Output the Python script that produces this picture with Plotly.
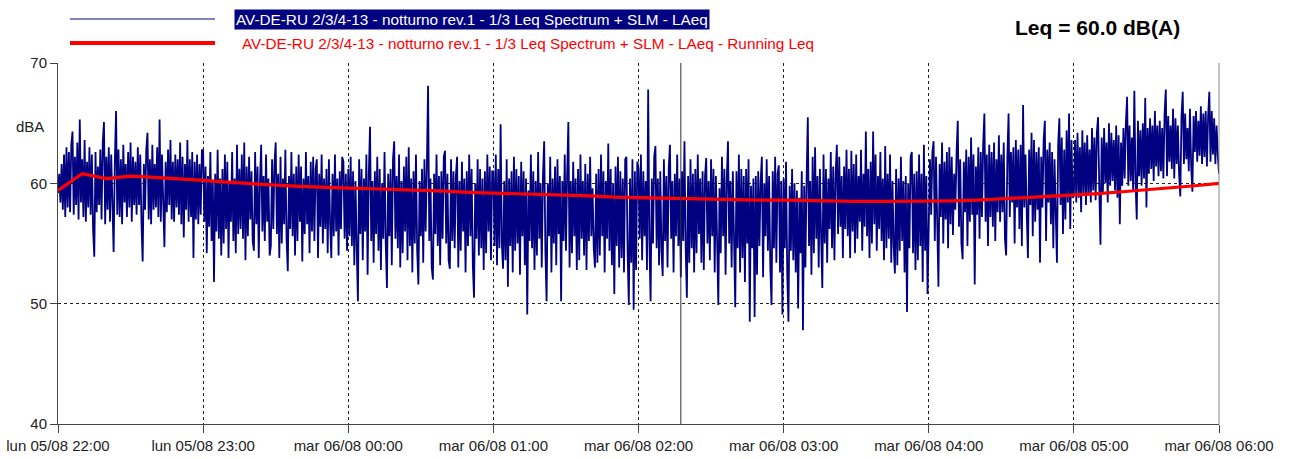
import pandas as pd
import plotly.graph_objects as go

# LAeq samples, one every 30 s
h22 = [59.2, 60.8, 58.4, 61.6, 57.8, 62.4, 57.2, 63.0, 58.0, 62.6,
       57.6, 63.2, 64.3, 57.4, 62.2, 58.2, 63.4, 57.0, 65.3, 58.4,
       62.0, 57.2, 63.6, 56.8, 61.8, 58.0, 63.0, 57.4, 62.4, 56.2,
       53.9, 62.6, 57.6, 61.4, 58.2, 62.8, 57.0, 63.4, 65.1, 56.6,
       62.2, 57.8, 63.0, 56.8, 62.4, 58.0, 54.3, 61.8, 66.0, 57.4,
       62.8, 57.2, 62.0, 56.6, 63.2, 58.4, 61.6, 57.2, 62.6, 58.0,
       63.4, 56.8, 62.2, 58.2, 61.8, 57.4, 63.0, 58.2, 62.4, 56.8,
       53.5, 61.6, 57.8, 62.8, 64.2, 57.0, 62.0, 56.6, 63.2, 57.8,
       61.6, 58.0, 63.0, 57.2, 65.3, 56.8, 62.4, 58.4, 54.7, 61.8,
       57.6, 62.8, 58.2, 63.6, 57.0, 61.8, 56.8, 62.4, 58.0, 62.0,
       57.4, 63.4, 56.6, 62.2, 55.5, 61.6, 57.8, 63.6, 56.8, 62.0,
       57.2, 62.6, 53.8, 61.8, 57.0, 62.4, 56.6, 61.6, 57.4, 62.8]
h23 = [62.7, 56.8, 61.4, 54.2, 60.6, 56.4, 62.6, 55.2, 60.2, 51.8,
       60.8, 56.0, 62.8, 55.4, 60.4, 54.0, 61.2, 55.0, 62.4, 56.2,
       61.8, 53.8, 60.2, 56.8, 62.6, 55.2, 60.4, 54.2, 63.2, 55.8,
       61.2, 56.2, 62.4, 55.4, 63.4, 53.6, 61.4, 55.6, 62.2, 57.0,
       61.0, 55.2, 54.4, 62.6, 56.6, 61.4, 53.8, 60.2, 63.2, 56.0,
       60.6, 55.2, 62.4, 56.8, 60.4, 54.0, 54.8, 62.0, 56.2, 61.6,
       63.4, 55.8, 60.8, 53.8, 62.2, 55.0, 60.4, 56.6, 62.8, 55.4,
       52.7, 60.6, 56.2, 62.6, 55.6, 60.8, 54.0, 61.4, 55.2, 62.4,
       56.8, 61.4, 53.5, 60.4, 55.8, 62.6, 56.6, 60.6, 54.2, 61.8,
       56.0, 62.2, 55.2, 61.2, 62.0, 53.8, 60.8, 56.4, 62.4, 55.0,
       60.4, 56.2, 61.2, 54.2, 62.0, 56.6, 53.8, 60.8, 55.6, 62.4,
       56.0, 60.4, 54.0, 61.0, 56.2, 62.2, 61.8, 55.4, 60.8, 54.4]
h00 = [61.2, 55.6, 62.2, 54.8, 61.0, 53.2, 60.2, 54.6, 50.2, 62.0,
       55.8, 61.2, 53.6, 60.4, 56.0, 62.4, 52.4, 60.8, 64.7, 55.2,
       60.2, 53.4, 61.0, 55.8, 62.2, 54.4, 61.2, 52.8, 60.0, 55.4,
       62.6, 55.0, 51.3, 60.8, 55.6, 61.2, 53.2, 62.0, 63.5, 55.4,
       60.6, 54.6, 62.4, 53.0, 60.2, 54.2, 61.4, 56.0, 62.2, 53.6,
       63.0, 54.8, 60.4, 52.6, 61.0, 55.0, 62.4, 54.4, 51.6, 60.2,
       55.6, 61.2, 53.4, 62.0, 56.0, 61.4, 68.1, 55.2, 60.4, 53.0,
       52.0, 60.8, 55.8, 62.4, 54.8, 60.6, 53.2, 61.0, 55.4, 62.2,
       62.7, 55.0, 60.8, 53.6, 52.9, 62.0, 55.2, 61.0, 54.6, 60.6,
       62.2, 53.0, 60.2, 54.4, 61.8, 56.0, 60.4, 52.6, 61.0, 54.8,
       62.4, 55.6, 61.2, 53.2, 50.5, 60.0, 55.4, 62.0, 54.0, 61.2,
       54.6, 60.4, 52.8, 61.0, 54.2, 62.4, 56.0, 61.4, 53.6, 61.0]
h01 = [61.0, 54.8, 62.4, 53.2, 61.2, 54.6, 64.9, 55.0, 52.9, 60.2,
       53.6, 62.0, 51.4, 60.4, 54.8, 61.0, 52.6, 62.2, 54.4, 61.2,
       55.0, 60.6, 52.4, 61.8, 55.6, 61.0, 53.2, 60.4, 49.1, 59.4,
       55.2, 62.4, 54.6, 61.0, 52.8, 60.2, 54.0, 62.6, 55.4, 60.0,
       53.0, 60.6, 63.5, 54.4, 50.2, 60.0, 55.6, 62.2, 52.6, 60.4,
       55.0, 61.4, 53.2, 62.0, 55.8, 60.6, 50.2, 60.2, 55.2, 62.4,
       54.4, 60.8, 65.1, 53.0, 60.2, 54.2, 61.8, 55.6, 60.4, 52.8,
       61.2, 53.6, 62.4, 55.4, 60.2, 54.0, 61.6, 52.8, 60.8, 55.2,
       62.2, 55.6, 59.6, 54.6, 53.0, 60.8, 53.4, 61.2, 54.0, 62.4,
       55.6, 61.0, 52.6, 60.2, 55.4, 63.3, 54.4, 61.2, 53.2, 60.0,
       50.8, 61.4, 54.8, 62.2, 53.0, 61.0, 53.8, 60.4, 52.6, 62.0,
       62.2, 54.2, 49.9, 60.4, 53.4, 62.0, 49.5, 61.0, 52.8, 61.8]
h02 = [61.2, 55.4, 62.4, 53.6, 61.0, 55.6, 60.2, 52.8, 67.8, 55.2,
       50.2, 60.4, 55.0, 62.2, 63.1, 54.6, 60.4, 53.2, 61.0, 54.4,
       52.3, 62.0, 55.2, 60.6, 53.0, 61.2, 63.2, 55.4, 60.2, 52.6,
       60.8, 55.6, 62.4, 54.8, 60.4, 52.2, 61.0, 55.2, 63.5, 54.6,
       50.5, 60.6, 53.4, 62.0, 54.6, 60.8, 52.6, 61.2, 54.2, 62.4,
       55.8, 60.4, 53.4, 61.0, 52.8, 60.6, 62.1, 55.0, 60.2, 53.6,
       62.0, 55.6, 61.2, 52.6, 60.6, 55.2, 49.9, 59.6, 54.2, 62.2,
       55.6, 61.2, 52.4, 60.4, 63.5, 55.0, 60.2, 53.0, 61.0, 55.4,
       49.7, 61.0, 54.6, 62.4, 52.6, 61.2, 53.8, 60.6, 51.8, 61.2,
       55.0, 62.0, 48.5, 59.8, 54.6, 60.4, 48.9, 60.6, 52.4, 61.0,
       54.8, 60.2, 62.2, 52.2, 60.0, 55.6, 62.0, 54.4, 60.6, 53.0,
       49.9, 61.0, 54.6, 62.2, 53.4, 60.8, 61.5, 52.6, 60.2, 49.1]
h03 = [60.4, 54.6, 61.8, 52.4, 48.5, 59.8, 54.4, 61.2, 53.6, 60.0,
       52.6, 59.4, 49.6, 58.8, 54.2, 61.0, 47.8, 59.8, 53.0, 60.4,
       65.5, 54.8, 60.2, 52.4, 62.2, 54.2, 63.0, 55.4, 60.6, 53.0,
       61.2, 55.6, 51.3, 62.4, 55.0, 61.2, 53.4, 60.4, 56.2, 62.6,
       54.6, 61.4, 53.6, 60.8, 63.2, 55.8, 62.2, 56.4, 60.6, 53.8,
       61.4, 56.2, 62.8, 55.6, 61.2, 53.8, 62.7, 56.0, 61.6, 54.2,
       62.4, 55.4, 60.6, 56.8, 62.8, 54.4, 60.8, 56.4, 64.3, 55.6,
       61.2, 53.8, 61.8, 55.0, 64.3, 56.6, 62.4, 54.4, 60.6, 56.2,
       62.6, 55.2, 60.4, 53.6, 63.1, 54.6, 60.8, 55.4, 62.4, 53.4,
       60.2, 54.8, 52.5, 61.2, 53.2, 60.4, 54.4, 62.2, 55.2, 60.2,
       52.6, 60.6, 49.3, 60.0, 54.6, 62.2, 62.6, 54.2, 60.8, 52.8,
       61.0, 53.6, 62.4, 54.8, 60.8, 51.8, 63.2, 54.4, 60.6, 50.8]
h04 = [58.0, 62.0, 57.4, 62.6, 63.5, 55.2, 62.2, 57.6, 51.4, 61.6,
       57.2, 63.4, 55.0, 61.8, 57.0, 62.6, 54.6, 63.0, 56.6, 62.2,
       55.7, 60.8, 57.8, 62.6, 65.2, 56.4, 62.0, 55.0, 53.7, 61.8,
       57.6, 62.8, 54.8, 62.2, 56.8, 63.8, 57.4, 62.4, 51.6, 61.4,
       57.4, 63.0, 55.4, 62.6, 57.2, 63.2, 65.8, 56.8, 62.4, 54.8,
       63.2, 57.2, 62.6, 56.4, 63.4, 55.2, 62.0, 57.6, 64.0, 56.8,
       62.4, 57.6, 63.4, 55.4, 54.0, 62.2, 65.8, 57.2, 62.6, 58.4,
       63.0, 55.0, 63.6, 58.0, 62.8, 56.2, 63.2, 54.8, 66.5, 58.0,
       62.4, 57.6, 53.8, 62.8, 58.2, 64.2, 55.6, 63.6, 56.8, 62.6,
       57.8, 63.0, 53.4, 62.2, 58.0, 63.6, 65.2, 55.2, 62.8, 58.4,
       63.4, 56.6, 62.6, 54.6, 62.0, 57.6, 53.4, 63.2, 65.4, 58.2,
       63.8, 55.8, 62.8, 57.0, 64.4, 58.4, 65.8, 56.2, 63.6, 58.8]
h05 = [59.0, 63.6, 58.4, 64.2, 58.8, 63.0, 57.6, 64.4, 59.2, 63.4,
       58.2, 64.0, 59.0, 62.8, 58.4, 64.6, 59.4, 63.8, 58.6, 64.2,
       65.5, 59.6, 54.9, 63.8, 59.2, 64.6, 60.0, 63.4, 58.4, 65.0,
       59.8, 64.2, 60.2, 63.6, 59.4, 64.8, 58.8, 64.0, 56.6, 63.4,
       59.8, 64.6, 60.4, 65.0, 67.2, 59.8, 64.8, 60.2, 63.8, 59.4,
       67.7, 60.0, 57.0, 65.2, 60.6, 64.4, 59.8, 65.0, 60.4, 67.1,
       58.0, 64.6, 60.8, 65.4, 61.2, 64.8, 60.2, 66.0, 61.4, 64.8,
       60.6, 65.2, 61.0, 64.6, 60.4, 65.8, 67.8, 60.6, 65.6, 61.8,
       64.8, 61.2, 66.2, 60.4, 65.4, 61.6, 64.8, 60.8, 58.9, 65.6,
       67.6, 61.6, 65.8, 62.0, 64.6, 61.0, 66.2, 61.4, 59.3, 65.6,
       62.6, 66.0, 61.8, 65.2, 62.3, 66.4, 61.6, 65.8, 62.2, 66.0,
       61.4, 65.6, 67.6, 61.8, 66.0, 62.4, 65.4, 61.6, 64.8, 62.4,
       60.8]

# Running Leq, every 10 minutes from 22:00 to 06:00
running_leq = [59.4, 60.8, 60.4, 60.6, 60.5, 60.4, 60.25, 60.1, 59.95, 59.85,
               59.75, 59.65, 59.6, 59.55, 59.5, 59.45, 59.35, 59.25, 59.2, 59.1,
               59.05, 59.0, 58.95, 58.85, 58.8, 58.75, 58.7, 58.7, 58.65, 58.6,
               58.6, 58.55, 58.55, 58.5, 58.5, 58.5, 58.5, 58.55, 58.6, 58.7,
               58.8, 58.9, 59.0, 59.15, 59.3, 59.45, 59.6, 59.8, 60.0]

tick_labels = ["lun 05/08 22:00", "lun 05/08 23:00", "mar 06/08 00:00",
               "mar 06/08 01:00", "mar 06/08 02:00", "mar 06/08 03:00",
               "mar 06/08 04:00", "mar 06/08 05:00", "mar 06/08 06:00"]
y_ticks = [40, 50, 60, 70]

series_name = "AV-DE-RU 2/3/4-13 - notturno rev.1 - 1/3 Leq Spectrum + SLM - LAeq"
leq_name = series_name + " - Running Leq"
leq_total = "Leq = 60.0 dB(A)"
cursor_time = "2024-08-06 02:17:30"

laeq = h22 + h23 + h00 + h01 + h02 + h03 + h04 + h05
t_laeq = pd.date_range("2024-08-05 22:00", periods=len(laeq), freq="30s")
t_leq = pd.date_range("2024-08-05 22:00", periods=len(running_leq), freq="10min")
tick_times = pd.date_range("2024-08-05 22:00", periods=len(tick_labels), freq="1h")

FONT = "Liberation Sans, Arial, sans-serif"
NAVY = "#000080"
RED = "#ff0000"

fig = go.Figure()
fig.add_trace(go.Scatter(x=t_laeq, y=laeq, mode="lines",
                         line=dict(color=NAVY, width=1.8), name=series_name))
fig.add_trace(go.Scatter(x=t_leq, y=running_leq, mode="lines",
                         line=dict(color=RED, width=3.2), name=leq_name))

fig.update_layout(
    width=1290, height=459,
    margin=dict(l=58, r=71, t=63, b=35, autoexpand=False),
    paper_bgcolor="white", plot_bgcolor="white",
    showlegend=False,
    font=dict(family=FONT, size=15, color="#222"),
)
fig.update_xaxes(
    range=[tick_times[0], tick_times[-1]],
    tickvals=tick_times, ticktext=tick_labels,
    ticks="outside", ticklen=8, tickcolor="#444",
    showline=True, linecolor="#444", linewidth=1,
    showgrid=True, gridcolor="#222", griddash="dot", gridwidth=1,
    tickfont=dict(size=15, color="#222"),
    zeroline=False, automargin=False,
)
fig.update_yaxes(
    range=[40, 70], tickvals=y_ticks,
    ticks="outside", ticklen=7, tickcolor="#444",
    showline=True, linecolor="#444", linewidth=1,
    showgrid=True, gridcolor="#222", griddash="dot", gridwidth=1,
    tickfont=dict(size=15, color="#222"),
    zeroline=False, automargin=False,
)

# right frame and cursor line
fig.add_shape(type="line", xref="paper", yref="paper", x0=1, x1=1, y0=0, y1=1,
              line=dict(color="#888", width=1))
fig.add_shape(type="line", xref="x", yref="paper", x0=cursor_time, x1=cursor_time,
              y0=0, y1=1, line=dict(color="#333", width=1))

# legend (drawn manually to match the original)
W, H = 1161, 361
def px(x):
    return (x - 58) / W
def py(y):
    return (424 - y) / H

fig.add_shape(type="line", xref="paper", yref="paper", x0=px(70), x1=px(215),
              y0=py(19), y1=py(19), line=dict(color="#5a5aa8", width=1.5))
fig.add_shape(type="line", xref="paper", yref="paper", x0=px(70), x1=px(215),
              y0=py(43), y1=py(43), line=dict(color=RED, width=4))
fig.add_annotation(xref="paper", yref="paper", x=px(234), y=py(19.5),
                   xanchor="left", yanchor="middle", showarrow=False,
                   text=series_name, bgcolor=NAVY, borderpad=1,
                   font=dict(family=FONT, size=15.3, color="white"))
fig.add_annotation(xref="paper", yref="paper", x=px(240), y=py(43),
                   xanchor="left", yanchor="middle", showarrow=False,
                   text=leq_name, font=dict(family=FONT, size=15.3, color=RED))
fig.add_annotation(xref="paper", yref="paper", x=px(1097), y=py(27),
                   xanchor="center", yanchor="middle", showarrow=False,
                   text="<b>" + leq_total + "</b>",
                   font=dict(family=FONT, size=21, color="black"))
fig.add_annotation(xref="paper", yref="paper", x=px(46), y=py(126),
                   xanchor="right", yanchor="middle", showarrow=False,
                   text="dBA", font=dict(family=FONT, size=15, color="#222"))

fig.write_html("out.html", config={"displayModeBar": False},
               post_script="document.body.style.margin='0px';")
